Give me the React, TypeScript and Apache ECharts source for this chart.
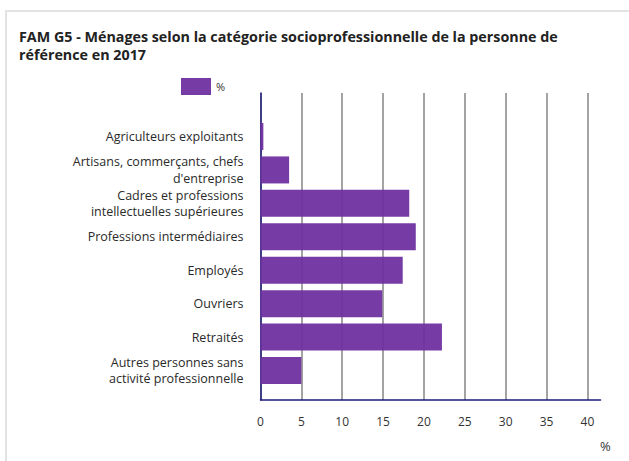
import React, { useEffect, useRef } from "react";
import * as echarts from "echarts";

const categories = [
  "Agriculteurs exploitants",
  "Artisans, commerçants, chefs\nd'entreprise",
  "Cadres et professions\nintellectuelles supérieures",
  "Professions intermédiaires",
  "Employés",
  "Ouvriers",
  "Retraités",
  "Autres personnes sans\nactivité professionnelle",
];
const values = [0.35, 3.5, 18.2, 19.0, 17.4, 14.9, 22.2, 5.0];
const seriesName = "%";
const titleLines = [
  "FAM G5 - Ménages selon la catégorie socioprofessionnelle de la personne de",
  "référence en 2017",
];
const axisMax = 41.6;
const axisInterval = 5;

const FONT = "'Open Sans', 'Noto Sans', sans-serif";
const GRID_LEFT = 260.5;
const GRID_RIGHT = 629 - 600.5;

// one colour per split line (0, 5, ..., 40, max); the line at max is hidden
const splitColors = [
  "#858585", "#858585", "#858585", "#858585", "#858585",
  "#858585", "#858585", "#858585", "#858585", "rgba(0,0,0,0)",
];

export default function App() {
  const ref = useRef<HTMLDivElement>(null);
  useEffect(() => {
    if (!ref.current) return;
    const chart = echarts.init(ref.current, undefined, { renderer: "svg" });
    const titleStyle = {
      fontFamily: FONT,
      fontSize: 14.3,
      fontWeight: "bold",
      color: "#222222",
      lineHeight: 16,
    };
    chart.setOption({
      animation: false,
      backgroundColor: "#ffffff",
      title: titleLines.map((t, i) => ({
        text: t,
        left: 19,
        top: 28 + i * 18,
        padding: 0,
        textStyle: titleStyle,
      })),
      legend: {
        left: 176,
        top: 73,
        itemWidth: 30,
        itemHeight: 17,
        icon: "rect",
        textStyle: { fontFamily: FONT, fontSize: 11, color: "#333333" },
        data: [seriesName],
      },
      graphic: [
        {
          type: "rect",
          shape: { x: 6, y: 11, width: 700, height: 500 },
          style: { fill: "none", stroke: "#e3e3e3", lineWidth: 2 },
          silent: true,
          z: -1,
        },
        {
          type: "text",
          left: 600,
          top: 439,
          style: { text: "%", fontFamily: FONT, fontSize: 13, fill: "#333333" },
        },
      ],
      grid: [
        { left: GRID_LEFT, right: GRID_RIGHT, top: 93, bottom: 461 - 400 },
        { left: GRID_LEFT, right: GRID_RIGHT, top: 119.8, bottom: 461 - 387.2 },
      ],
      xAxis: [
        {
          type: "value",
          gridIndex: 0,
          min: 0,
          max: axisMax,
          interval: axisInterval,
          axisLine: { show: true, lineStyle: { color: "#1c1c7c", width: 1.5 } },
          axisTick: { show: false },
          axisLabel: {
            margin: 15,
            fontFamily: FONT,
            fontSize: 12,
            color: "#333333",
            showMaxLabel: false,
          },
          splitLine: { show: true, lineStyle: { color: splitColors, width: 1.5 } },
        },
        {
          type: "value",
          gridIndex: 1,
          min: 0,
          max: axisMax,
          interval: axisInterval,
          show: false,
        },
      ],
      yAxis: [
        {
          type: "category",
          gridIndex: 0,
          data: [""],
          axisLine: { show: true, lineStyle: { color: "#1c1c7c", width: 1.5 } },
          axisTick: { show: false },
          axisLabel: { show: false },
          splitLine: { show: false },
        },
        {
          type: "category",
          gridIndex: 1,
          inverse: true,
          data: categories,
          axisLine: { show: false },
          axisTick: { show: false },
          axisLabel: {
            margin: 17,
            fontFamily: FONT,
            fontSize: 12.5,
            lineHeight: 16.5,
            color: "#2a2a2a",
            align: "right",
          },
        },
      ],
      series: [
        {
          name: seriesName,
          type: "bar",
          xAxisIndex: 1,
          yAxisIndex: 1,
          data: values,
          barWidth: 27,
          itemStyle: { color: "#7030a0", opacity: 0.95 },
        },
      ],
    });
    return () => chart.dispose();
  }, []);
  return (
    <div
      ref={ref}
      style={{ position: "fixed", left: 0, top: 0, width: 629, height: 461 }}
    />
  );
}
